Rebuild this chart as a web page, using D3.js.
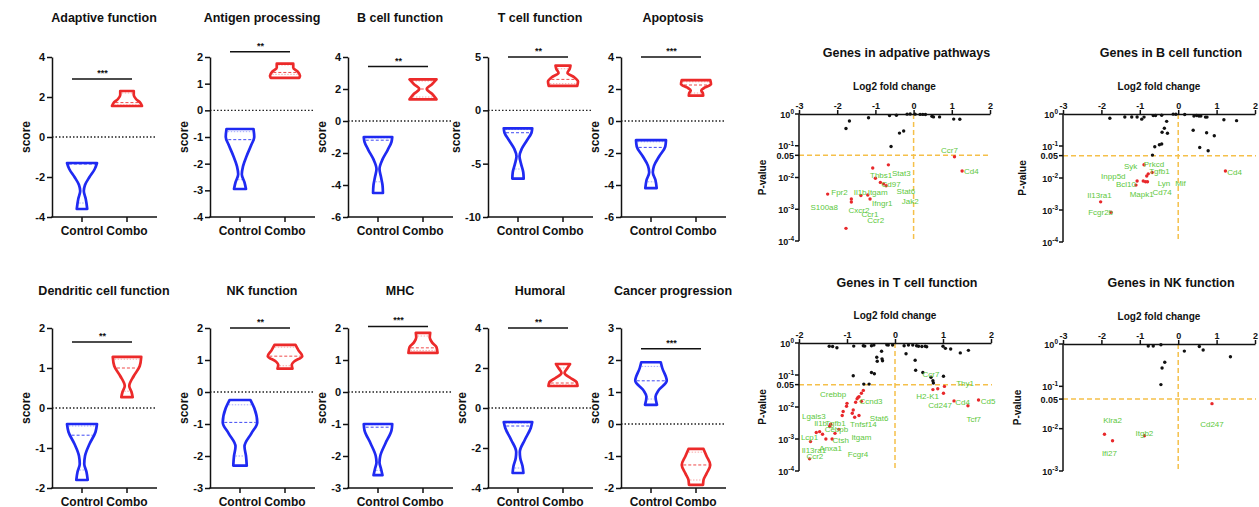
<!DOCTYPE html>
<html><head><meta charset="utf-8">
<script src="https://cdn.jsdelivr.net/npm/d3@7"></script>
<style>
body{margin:0;background:#fff}
svg{display:block}
text{font-family:"Liberation Sans",Arial,Helvetica,sans-serif;font-weight:bold;fill:#111}
text.gene{font-weight:normal}
</style>
</head><body>
<svg id="chart" width="1259" height="507"></svg>
<script>
// ---------------- DATA: violin panels ----------------
const violinTitles = ["Adaptive function","Antigen processing","B cell function","T cell function","Apoptosis",
  "Dendritic cell function","NK function","MHC","Humoral","Cancer progression"];
const groups = ["Control","Combo"];
const yDomains = [[-4,4],[-4,2],[-6,4],[-10,5],[-6,4],[-2,2],[-3,2],[-3,2],[-4,4],[-2,3]];
const yTickValues = [[-4,-2,0,2,4],[-4,-3,-2,-1,0,1,2],[-6,-4,-2,0,2,4],[-10,-5,0,5],[-6,-4,-2,0,2,4],
  [-2,-1,0,1,2],[-3,-2,-1,0,1,2],[-3,-2,-1,0,1,2],[-4,-2,0,2,4],[-2,-1,0,1,2,3]];
// violin outline profiles: [score, relative half-width]
const controlProfiles = [
  [[-1.3,1.0],[-1.6,0.85],[-2.0,0.5],[-2.4,0.2],[-2.7,0.12],[-3.1,0.25],[-3.6,0.35]],
  [[-0.7,0.9],[-1.0,0.95],[-1.3,0.75],[-1.7,0.45],[-2.1,0.2],[-2.4,0.12],[-2.7,0.3],[-2.95,0.4]],
  [[-1.0,0.95],[-1.3,0.9],[-1.8,0.65],[-2.4,0.3],[-3.0,0.1],[-3.5,0.2],[-4.0,0.3],[-4.5,0.33]],
  [[-1.7,0.95],[-2.1,0.9],[-2.8,0.6],[-3.6,0.25],[-4.3,0.1],[-5.0,0.2],[-5.8,0.35],[-6.4,0.38]],
  [[-1.2,1.0],[-1.6,0.95],[-2.2,0.55],[-2.8,0.2],[-3.2,0.12],[-3.7,0.3],[-4.2,0.38]],
  [[-0.4,1.0],[-0.6,0.9],[-0.9,0.5],[-1.2,0.2],[-1.4,0.15],[-1.6,0.3],[-1.8,0.38]],
  [[-0.25,0.7],[-0.5,0.95],[-0.95,1.15],[-1.3,0.75],[-1.7,0.3],[-2.0,0.4],[-2.3,0.45]],
  [[-1.0,0.95],[-1.2,0.9],[-1.6,0.5],[-2.0,0.15],[-2.2,0.1],[-2.4,0.2],[-2.6,0.3]],
  [[-0.7,0.95],[-1.0,0.85],[-1.6,0.45],[-2.2,0.12],[-2.5,0.15],[-2.9,0.3],[-3.25,0.36]],
  [[1.93,0.65],[1.75,0.75],[1.35,1.05],[1.05,0.5],[0.85,0.3],[0.6,0.4]]
];
const comboProfiles = [
  [[2.3,0.45],[2.1,0.45],[1.9,0.6],[1.7,0.9],[1.55,1.0]],
  [[1.75,0.55],[1.6,0.55],[1.45,0.85],[1.3,1.0],[1.22,0.95]],
  [[2.6,0.9],[2.3,0.6],[2.0,0.25],[1.7,0.6],[1.35,0.9]],
  [[4.2,0.5],[3.9,0.45],[3.5,0.3],[3.1,0.75],[2.7,1.0],[2.3,0.95]],
  [[2.55,0.95],[2.3,1.0],[2.1,0.6],[1.9,0.35],[1.75,0.45],[1.58,0.48]],
  [[1.28,0.95],[1.05,0.85],[0.8,0.45],[0.55,0.15],[0.4,0.3],[0.27,0.38]],
  [[1.47,0.7],[1.3,0.9],[1.12,1.15],[0.95,0.6],[0.85,0.45],[0.73,0.5]],
  [[1.85,0.48],[1.7,0.45],[1.55,0.6],[1.4,0.9],[1.22,0.97]],
  [[2.2,0.47],[2.0,0.3],[1.75,0.1],[1.5,0.5],[1.3,0.9],[1.1,0.97]],
  [[-0.78,0.5],[-1.0,0.7],[-1.28,0.95],[-1.55,0.7],[-1.75,0.5],[-1.9,0.47]]
];
// [lower quartile, median, upper quartile]
const controlQuartiles = [[-3.3,-1.35,-1.3],[-2.6,-1.1,-0.8],[-3.8,-1.2,-1.05],[-5.5,-2.1,-1.8],[-3.8,-1.65,-1.3],
  [-1.55,-0.68,-0.45],[-2.0,-0.95,-0.4],[-2.45,-1.1,-1.02],[-3.0,-0.9,-0.75],[0.78,1.35,1.8]];
const comboQuartiles = [[1.6,1.72,2.2],[1.35,1.42,1.7],[1.5,2.0,2.5],[2.5,2.9,3.9],[1.75,2.25,2.45],
  [0.42,1.0,1.22],[0.82,1.12,1.4],[1.3,1.38,1.75],[1.15,1.25,2.0],[-1.75,-1.28,-0.88]];
const sigLabels = ["***","**","**","**","***","**","**","***","**","***"];
const sigLevels = [2.9,2.2,3.4,5,4,1.65,2,2.05,4,2.35];

// ---------------- DATA: volcano panels ----------------
const volcanoTitles = ["Genes in adpative pathways","Genes in B cell function","Genes in T cell function","Genes in NK function"];
const volcanoXDomains = [[-3,2],[-3,2],[-2,2],[-3,2]];
const volcanoXTicks = [[-3,-2,-1,0,1,2],[-3,-2,-1,0,1,2],[-2,-1,0,1,2],[-3,-2,-1,0,1,2]];
const volcanoPMin = [1e-4,1e-4,1e-4,1e-3];
// [log2 fold change, p-value]
const adaptiveNS = [[-1.77,0.35],[-1.68,0.6],[-1.18,0.76],[-0.63,0.89],[-0.45,0.91],[-0.37,0.25],[-0.26,0.29],[-0.59,0.095],
  [-0.17,0.99],[-0.09,1.0],[0.04,0.99],[0.17,0.97],[0.24,0.97],[0.31,0.96],[0.48,0.85],[0.52,0.81],[0.68,0.81],[1.05,0.69],[1.21,0.68]];
const adaptiveSig = [[1.07,0.045],[1.27,0.016],[-1.07,0.02],[-0.66,0.025],[-1.0,0.0095],[-0.87,0.007],[-0.79,0.0063],[-0.72,0.0055],
  [-2.25,0.003],[-1.63,0.0021],[-1.63,0.0017],[-1.38,0.0027],[-1.2,0.0028],[-1.14,0.0021],[-1.77,0.00025]];
const adaptiveLabels = [["Ccr7",0.94,0.074],["Cd4",1.51,0.0155],["Thbs1",-0.85,0.0115],["Stat3",-0.32,0.0138],["Cd97",-0.59,0.0063],
  ["Fpr2",-1.94,0.0035],["Il1b",-1.40,0.0035],["Itgam",-0.94,0.0035],["Stat6",-0.2,0.0036],["S100a8",-2.34,0.0012],
  ["Ifngr1",-0.82,0.00155],["Jak2",-0.09,0.0018],["Cxcr2",-1.43,0.00095],["Ccr1",-1.14,0.00069],["Ccr2",-0.99,0.00044]];

const bcellNS = [[-1.78,0.74],[-1.39,0.81],[-1.21,0.81],[-1.07,0.81],[-0.95,0.69],[-0.89,0.8],[-0.65,0.89],[-0.59,0.9],[-0.43,0.91],
  [-0.3,0.59],[-0.36,0.36],[-0.42,0.27],[-0.28,0.25],[-0.61,0.095],[-0.49,0.11],[-0.43,0.115],[-0.67,0.052],[-0.13,0.99],[-0.06,0.98],
  [0.17,0.96],[0.41,0.86],[0.48,0.9],[0.54,0.86],[0.59,0.86],[0.71,0.8],[0.75,0.8],[0.39,0.31],[0.74,0.26],[0.94,0.21],[0.56,0.09],
  [0.78,0.071],[1.19,0.66],[1.52,0.62]];
const bcellSig = [[-0.89,0.026],[-0.78,0.0135],[-0.82,0.0115],[-0.68,0.0148],[-1.07,0.0081],[-1.1,0.006],[-0.91,0.0081],[-0.85,0.0076],
  [-0.8,0.0076],[-2.02,0.0018],[-1.75,0.00085],[1.23,0.0166]];
const bcellLabels = [["Syk",-1.24,0.023],["Prkcd",-0.63,0.027],["Tgfb1",-0.49,0.0158],["Inpp5d",-1.69,0.011],["Bcl10",-1.36,0.0065],
  ["Lyn",-0.37,0.0071],["Mif",0.06,0.0071],["Mapk1",-0.95,0.0032],["Cd74",-0.42,0.0035],["Il13ra1",-2.05,0.003],["Fcgr2b",-2.02,0.00085],
  ["Cd4",1.47,0.015]];

const tcellNS = [[-1.37,0.79],[-1.3,0.78],[-1.21,0.71],[-0.86,0.8],[-0.66,0.82],[-0.63,0.8],[-0.49,0.82],[-0.44,0.86],[-0.17,0.88],
  [-0.14,0.86],[-0.05,0.86],[0.19,0.82],[0.28,0.86],[0.37,0.86],[0.45,0.82],[0.49,0.79],[0.56,0.78],[0.63,0.79],[0.66,0.76],[1.0,0.79],
  [1.05,0.68],[1.16,0.65],[1.36,0.49],[1.53,0.59],[-0.28,0.55],[-0.38,0.36],[-0.27,0.32],[-0.37,0.27],[-0.26,0.28],[-0.49,0.12],
  [-0.43,0.11],[-0.87,0.095],[-0.65,0.052],[-0.54,0.052],[0.23,0.46],[0.42,0.29],[0.43,0.14],[0.58,0.12],[0.75,0.085],[0.79,0.066],
  [0.8,0.056],[1.01,0.091]];
const tcellSig = [[-0.66,0.033],[-0.70,0.027],[-0.75,0.021],[-0.77,0.02],[-0.79,0.018],[-0.82,0.014],[-0.70,0.015],[-1.0,0.013],
  [-1.01,0.0105],[-1.08,0.0072],[-1.10,0.0054],[-0.87,0.0081],[-0.89,0.0064],[-0.84,0.0048],[-0.75,0.0054],[-1.34,0.0029],
  [-1.36,0.0025],[-1.17,0.002],[-1.57,0.0017],[-1.64,0.0016],[-1.51,0.0014],[-1.25,0.0015],[-1.44,0.001],[-1.31,0.001],
  [-1.76,0.00083],[-1.78,0.00024],[0.79,0.035],[0.89,0.037],[1.03,0.044],[1.01,0.027],[1.23,0.0155],[1.52,0.011],[1.74,0.0166]];
const tcellLabels = [["Crebbp",-1.29,0.025],["Ccnd3",-0.5,0.0155],["Ccr7",0.75,0.107],["Thy1",1.46,0.054],["H2-K1",0.68,0.021],
  ["Cd247",0.94,0.0117],["Cd4",1.41,0.014],["Cd5",1.94,0.0148],["Tcf7",1.64,0.0043],["Lgals3",-1.69,0.0052],["Il1b",-1.55,0.0031],
  ["Tgfb1",-1.24,0.0031],["Stat6",-0.33,0.0045],["Tnfsf14",-0.66,0.0028],["Cebpb",-1.22,0.002],["Lcp1",-1.78,0.0011],
  ["Ctsh",-1.13,0.00093],["Itgam",-0.7,0.0011],["Il13ra1",-1.69,0.00046],["Anxa1",-1.34,0.00051],["Ccr2",-1.67,0.0003],
  ["Fcgr4",-0.77,0.00033]];

const nkNS = [[-0.78,0.9],[-0.65,0.9],[-0.45,0.96],[0.16,0.68],[0.55,0.87],[0.65,0.72],[1.36,0.5],[-0.35,0.37],[-0.42,0.27],[-0.45,0.11]];
const nkSig = [[-1.92,0.0074],[-1.71,0.0052],[-0.88,0.0068],[0.88,0.039]];
const nkLabels = [["Klra2",-1.71,0.016],["Itgb2",-0.88,0.0078],["Ifi27",-1.79,0.0027],["Cd247",0.88,0.0126]];

const volcanoNS = [adaptiveNS,bcellNS,tcellNS,nkNS];
const volcanoSig = [adaptiveSig,bcellSig,tcellSig,nkSig];
const volcanoLabels = [adaptiveLabels,bcellLabels,tcellLabels,nkLabels];
const pThreshold = 0.05;

// ---------------- LAYOUT / STYLE ----------------
const svg = d3.select("#chart");
const BLUE = "#1f2af2", RED = "#ec2a2a", ORANGE = "#f5c04a", GREEN = "#5cc83c", DOTRED = "#e8282b";
const panelAxisX = [52,210,348,488,621];
const rowRange = [[57,217],[328,488]];
const titleY = [22,295];
const panelW = 105, ctrlOff = 30, comboOff = 75, halfW = 15;

function widthAt(profile, v){
  const p = profile.slice().sort((a,b)=>a[0]-b[0]);
  if (v <= p[0][0]) return p[0][1];
  if (v >= p[p.length-1][0]) return p[p.length-1][1];
  for (let i=1;i<p.length;i++){
    if (v <= p[i][0]){
      const t = (v-p[i-1][0])/(p[i][0]-p[i-1][0]);
      return p[i-1][1] + t*(p[i][1]-p[i-1][1]);
    }
  }
  return p[p.length-1][1];
}

violinTitles.forEach((title, i) => {
  const row = Math.floor(i/5), col = i%5;
  const ax = panelAxisX[col];
  const [yt, yb] = rowRange[row];
  const y = d3.scaleLinear().domain(yDomains[i]).range([yb, yt]);
  const x = d3.scalePoint().domain(groups).range([ax+ctrlOff, ax+comboOff]);
  const g = svg.append("g");

  g.append("text").attr("x", ax+52).attr("y", titleY[row]).attr("text-anchor","middle")
    .attr("font-size", 12.5).text(title);

  // zero dotted line
  g.append("line").attr("x1", ax).attr("x2", ax+panelW).attr("y1", y(0)).attr("y2", y(0))
    .attr("stroke","#222").attr("stroke-width",1.3).attr("stroke-dasharray","1.5,2");

  // y axis
  const yAxis = g.append("g").attr("transform",`translate(${ax},0)`)
    .call(d3.axisLeft(y).tickValues(yTickValues[i]).tickSize(5).tickSizeOuter(0).tickPadding(2).tickFormat(d=>String(d)));
  yAxis.selectAll("path,line").attr("stroke","#111").attr("stroke-width",1.5);
  yAxis.selectAll("text").attr("font-size",11).attr("font-family",'"Liberation Sans",Arial,sans-serif').attr("font-weight","bold").attr("fill","#111");
  const bw = yAxis.node().getBBox().width;
  g.append("text").attr("transform",`translate(${ax-bw-5},${(yt+yb)/2}) rotate(-90)`)
    .attr("text-anchor","middle").attr("font-size",12).text("score");

  // x axis
  g.append("line").attr("x1", ax-0.75).attr("x2", ax+panelW).attr("y1", yb).attr("y2", yb)
    .attr("stroke","#111").attr("stroke-width",1.5);
  groups.forEach(gr => {
    g.append("line").attr("x1", x(gr)).attr("x2", x(gr)).attr("y1", yb).attr("y2", yb+5)
      .attr("stroke","#111").attr("stroke-width",1.5);
    g.append("text").attr("x", x(gr)).attr("y", yb+18).attr("text-anchor","middle").attr("font-size",12).text(gr);
  });

  // violins
  [[controlProfiles[i], controlQuartiles[i], BLUE, groups[0]],[comboProfiles[i], comboQuartiles[i], RED, groups[1]]]
    .forEach(([prof, q, col, gr]) => {
      const cx = x(gr);
      const sorted = prof.slice().sort((a,b)=>b[0]-a[0]);
      const area = d3.area().y(d=>y(d[0])).x0(d=>cx-d[1]*halfW).x1(d=>cx+d[1]*halfW).curve(d3.curveMonotoneY);
      g.append("path").attr("d", area(sorted)).attr("fill","white").attr("stroke",col)
        .attr("stroke-width",2.7).attr("stroke-linejoin","round");
      q.forEach((v, k) => {
        const w = widthAt(prof, v)*halfW - 1.5;
        g.append("line").attr("x1", cx-w).attr("x2", cx+w).attr("y1", y(v)).attr("y2", y(v))
          .attr("stroke", col).attr("stroke-width", 1)
          .attr("stroke-opacity", k===1 ? 0.85 : 0.4)
          .attr("stroke-dasharray", k===1 ? "3,2" : "1.5,1.5");
      });
    });

  // significance bar
  const by = y(sigLevels[i]);
  g.append("line").attr("x1", x(groups[0])-10).attr("x2", x(groups[1])+5).attr("y1", by).attr("y2", by)
    .attr("stroke","#111").attr("stroke-width",1.5);
  g.append("text").attr("x", (x(groups[0])+x(groups[1]))/2-2).attr("y", by-3).attr("text-anchor","middle")
    .attr("font-size",9).text(sigLabels[i]);
});

// ---------------- volcano panels ----------------
const volcanoLayout = [
  {x0:799, x1:990, yt:114, yb:241, labX:762},
  {x0:1063, x1:1255, yt:114, yb:242, labX:1022},
  {x0:799, x1:991, yt:343, yb:471, labX:762},
  {x0:1063, x1:1255, yt:344, yb:471, labX:1017}
];
const volcanoTitleY = [57,287];

volcanoTitles.forEach((title, i) => {
  const L = volcanoLayout[i];
  const row = Math.floor(i/2);
  const x = d3.scaleLinear().domain(volcanoXDomains[i]).range([L.x0, L.x1]);
  const y = d3.scaleLog().domain([1, volcanoPMin[i]]).range([L.yt, L.yb]);
  const g = svg.append("g");
  const mid = (L.x0+L.x1)/2;

  g.append("text").attr("x", mid+12).attr("y", volcanoTitleY[row]).attr("text-anchor","middle")
    .attr("font-size",12.5).text(title);
  g.append("text").attr("x", mid).attr("y", L.yt-24).attr("text-anchor","middle")
    .attr("font-size",10).text("Log2 fold change");
  g.append("text").attr("transform",`translate(${L.labX+4},${(L.yt+L.yb)/2}) rotate(-90)`)
    .attr("text-anchor","middle").attr("font-size",10).text("P-value");

  // orange dashed threshold lines
  g.append("line").attr("x1", L.x0).attr("x2", L.x1+1).attr("y1", y(pThreshold)).attr("y2", y(pThreshold))
    .attr("stroke",ORANGE).attr("stroke-width",1.5).attr("stroke-dasharray","5,3");
  g.append("line").attr("x1", x(0)).attr("x2", x(0)).attr("y1", L.yt).attr("y2", L.yb)
    .attr("stroke",ORANGE).attr("stroke-width",1.5).attr("stroke-dasharray","5,3");

  // x axis (top)
  const xAxis = g.append("g").attr("transform",`translate(0,${L.yt})`)
    .call(d3.axisTop(x).tickValues(volcanoXTicks[i]).tickSize(4).tickSizeOuter(0).tickPadding(1).tickFormat(d=>String(d)));
  xAxis.selectAll("path,line").attr("stroke","#111").attr("stroke-width",1.5);
  xAxis.selectAll("text").attr("font-size",9).attr("font-family",'"Liberation Sans",Arial,sans-serif').attr("font-weight","bold").attr("fill","#111");

  // y axis (left, log)
  g.append("line").attr("x1", L.x0).attr("x2", L.x0).attr("y1", L.yt).attr("y2", L.yb)
    .attr("stroke","#111").attr("stroke-width",1.5);
  const nDec = Math.round(-Math.log10(volcanoPMin[i]));
  const yt = d3.range(0, nDec+1).map(k => Math.pow(10,-k));
  yt.forEach((v,k) => {
    g.append("line").attr("x1", L.x0-4).attr("x2", L.x0).attr("y1", y(v)).attr("y2", y(v))
      .attr("stroke","#111").attr("stroke-width",1.5);
    const t = g.append("text").attr("x", L.x0-5).attr("y", y(v)+3.5).attr("text-anchor","end").attr("font-size",9);
    t.append("tspan").text("10");
    t.append("tspan").attr("font-size",6.5).attr("dy",-3.5).text(k===0 ? "0" : "-"+k);
  });
  g.append("line").attr("x1", L.x0-4).attr("x2", L.x0).attr("y1", y(pThreshold)).attr("y2", y(pThreshold))
    .attr("stroke","#111").attr("stroke-width",1.5);
  g.append("text").attr("x", L.x0-5).attr("y", y(pThreshold)+3.5).attr("text-anchor","end").attr("font-size",9).text("0.05");

  // points
  g.selectAll(".ns").data(volcanoNS[i]).join("circle")
    .attr("cx", d=>x(d[0])).attr("cy", d=>y(d[1])).attr("r",1.7).attr("fill","#111");
  g.selectAll(".sig").data(volcanoSig[i]).join("circle")
    .attr("cx", d=>x(d[0])).attr("cy", d=>y(d[1])).attr("r",1.7).attr("fill",DOTRED);
  g.selectAll(".lab").data(volcanoLabels[i]).join("text")
    .attr("class","gene")
    .attr("x", d=>x(d[1])).attr("y", d=>y(d[2])).attr("dy","0.35em").attr("text-anchor","middle")
    .attr("font-size",8).style("fill",GREEN).text(d=>d[0]);
});
</script>
</body></html>
